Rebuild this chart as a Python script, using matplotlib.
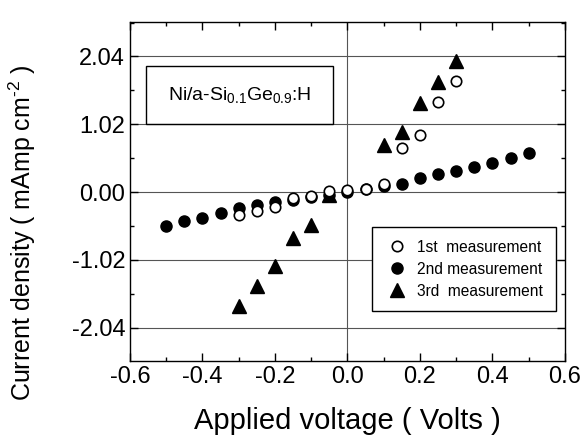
import matplotlib
matplotlib.use("Agg")
import matplotlib.pyplot as plt
from matplotlib.patches import Rectangle
from matplotlib.ticker import MultipleLocator

plt.rcParams['font.family'] = ['Liberation Sans', 'DejaVu Sans']
plt.rcParams['mathtext.fontset'] = 'custom'
plt.rcParams['mathtext.rm'] = 'Liberation Sans'
plt.rcParams['mathtext.it'] = 'Liberation Sans:italic'
plt.rcParams['mathtext.default'] = 'regular'

# 1st measurement (open circles)
v1 = [-0.30, -0.25, -0.20, -0.15, -0.10, -0.05, 0.00, 0.05, 0.10, 0.15, 0.20, 0.25, 0.30]
j1 = [-0.35, -0.29, -0.225, -0.09, -0.065, 0.02, 0.025, 0.05, 0.12, 0.67, 0.865, 1.36, 1.665]

# 2nd measurement (filled circles)
v2 = [-0.50, -0.45, -0.40, -0.35, -0.30, -0.25, -0.20, -0.15, -0.10, -0.05, 0.00,
      0.05, 0.10, 0.15, 0.20, 0.25, 0.30, 0.35, 0.40, 0.45, 0.50]
j2 = [-0.515, -0.44, -0.39, -0.315, -0.245, -0.195, -0.155, -0.12, -0.08, -0.04, 0.0,
      0.04, 0.09, 0.12, 0.215, 0.265, 0.315, 0.38, 0.44, 0.515, 0.585]

# 3rd measurement (triangles)
v3 = [-0.30, -0.25, -0.20, -0.15, -0.10, -0.05, 0.10, 0.15, 0.20, 0.25, 0.30]
j3 = [-1.715, -1.415, -1.105, -0.69, -0.49, -0.04, 0.71, 0.91, 1.345, 1.65, 1.965]

yticks = [-2.04, -1.02, 0.00, 1.02, 2.04]
xticks = [-0.6, -0.4, -0.2, 0.0, 0.2, 0.4, 0.6]

fig = plt.figure(figsize=(5.83, 4.37), dpi=100)
ax = fig.add_axes([0.223, 0.174, 0.746, 0.776])

for y in yticks:
    ax.axhline(y, color='#555555', lw=0.8, zorder=0)
ax.axvline(0, color='#555555', lw=0.8, zorder=0)

ax.plot(v2, j2, 'o', color='black', ms=8, ls='none', label='2nd measurement', zorder=2)
ax.plot(v3, j3, '^', color='black', ms=9.5, ls='none', label='3rd  measurement', zorder=3)
ax.plot(v1, j1, 'o', mfc='white', mec='black', mew=1.2, ms=7.5, ls='none',
        label='1st  measurement', zorder=4)

ax.set_xlim(-0.6, 0.6)
ax.set_ylim(-2.54, 2.56)
ax.set_yticks(yticks)
ax.set_yticklabels(['%.2f' % y for y in yticks])
ax.set_xticks(xticks)
ax.set_xticklabels(['%.1f' % x for x in xticks])
ax.xaxis.set_minor_locator(MultipleLocator(0.1))
ax.yaxis.set_minor_locator(MultipleLocator(0.51))
ax.tick_params(which='both', direction='in', top=True, right=True, labelsize=17, width=1)
ax.tick_params(which='major', length=6)
ax.tick_params(which='minor', length=3)
for s in ax.spines.values():
    s.set_linewidth(1.0)

ax.set_xlabel('Applied voltage ( Volts )', fontsize=21, labelpad=14)
ax.set_ylabel('Current density ( mAmp cm$^{\\text{-}2}$ )', fontsize=18)
ax.yaxis.set_label_coords(-0.212, 0.378)

ax.add_patch(Rectangle((0.037, 0.699), 0.43, 0.171, transform=ax.transAxes,
                       fill=False, ec='black', lw=1.0, zorder=5))
ax.text(0.252, 0.784, 'Ni/a-Si$_{0.1}$Ge$_{0.9}$:H', transform=ax.transAxes,
        ha='center', va='center', fontsize=14, zorder=6)

h, l = ax.get_legend_handles_labels()
order = [2, 0, 1]
leg = ax.legend([h[i] for i in order], [l[i] for i in order],
                loc='lower right', bbox_to_anchor=(0.979, 0.147), fontsize=11.2,
                frameon=True, fancybox=False, edgecolor='black', framealpha=1,
                borderpad=0.8, labelspacing=0.45, handletextpad=0.5,
                handlelength=1.6, borderaxespad=0)
leg.get_frame().set_linewidth(1.0)

fig.savefig('out.png', dpi=100)
